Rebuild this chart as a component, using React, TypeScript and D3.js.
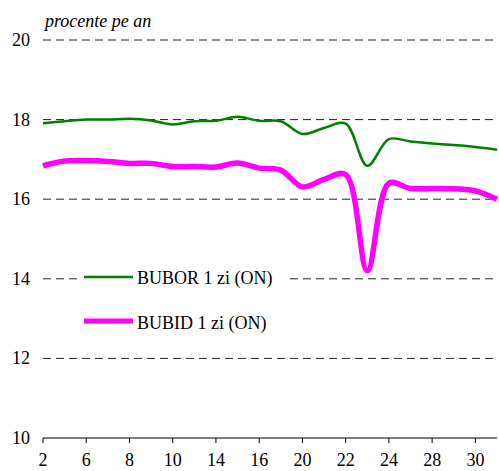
import React from "react";
import * as d3 from "d3";

const days = ["2","3","6","7","8","9","10","13","14","15","16","17","20","21","22","23","24","27","28","29","30","31"];
const bubor = [17.91,17.96,18.0,18.0,18.02,17.98,17.88,17.96,17.97,18.07,17.97,17.96,17.64,17.79,17.9,16.84,17.51,17.45,17.4,17.36,17.31,17.24];
const bubid = [16.84,16.96,16.97,16.95,16.9,16.9,16.82,16.82,16.81,16.91,16.78,16.73,16.31,16.5,16.62,14.2,16.4,16.27,16.27,16.26,16.21,16.0];
const yTicks = [10,12,14,16,18,20];
const seriesNames = ["BUBOR 1 zi (ON)", "BUBID 1 zi (ON)"];
const unitLabel = "procente pe an";

const W = 499, H = 471;
const left = 43, right = 497, top = 40, bottom = 438;
const FONT = "Liberation Serif, DejaVu Serif, serif";
const ts: React.CSSProperties = { fontFamily: FONT, fontSize: 18 };

export default function App() {
  const x = d3.scalePoint<number>().domain(d3.range(days.length)).range([left, right]);
  const y = d3.scaleLinear().domain([10, 20]).range([bottom, top]);
  const line = d3
    .line<number>()
    .x((_, i) => x(i)!)
    .y((d) => y(d))
    .curve(d3.curveCatmullRom.alpha(0.5));

  return (
    <svg width={W} height={H} style={{ position: "absolute", left: 0, top: 0, background: "#fff" }}>
      <text x={45} y={27} style={{ ...ts, fontStyle: "italic" }} fill="#000">{unitLabel}</text>
      {yTicks.map((t) => (
        <g key={t}>
          {t !== 10 && (
            <line x1={left} x2={right} y1={y(t)} y2={y(t)} stroke="#222" strokeWidth={1} strokeDasharray="8,5" />
          )}
          <text x={30} y={y(t) + 6} style={ts} textAnchor="end" fill="#000">{t}</text>
        </g>
      ))}
      <line x1={left} x2={right} y1={bottom} y2={bottom} stroke="#000" strokeWidth={1} />
      {days.map((d, i) =>
        i % 2 === 0 ? (
          <g key={i}>
            <line x1={x(i)} x2={x(i)} y1={bottom} y2={bottom + 5} stroke="#000" strokeWidth={1} />
            <text x={x(i)} y={466} style={ts} textAnchor="middle" fill="#000">{d}</text>
          </g>
        ) : null
      )}
      <path d={line(bubor) || ""} fill="none" stroke="#008000" strokeWidth={2.5} />
      <path d={line(bubid) || ""} fill="none" stroke="#ff00ff" strokeWidth={5.5} />
      <rect x={78} y={262} width={210} height={78} fill="#fff" />
      <line x1={84} x2={133} y1={277} y2={277} stroke="#008000" strokeWidth={2.5} />
      <text x={137} y={284} style={ts} fill="#000">{seriesNames[0]}</text>
      <line x1={84} x2={133} y1={321} y2={321} stroke="#ff00ff" strokeWidth={5} />
      <text x={137} y={329} style={ts} fill="#000">{seriesNames[1]}</text>
    </svg>
  );
}
